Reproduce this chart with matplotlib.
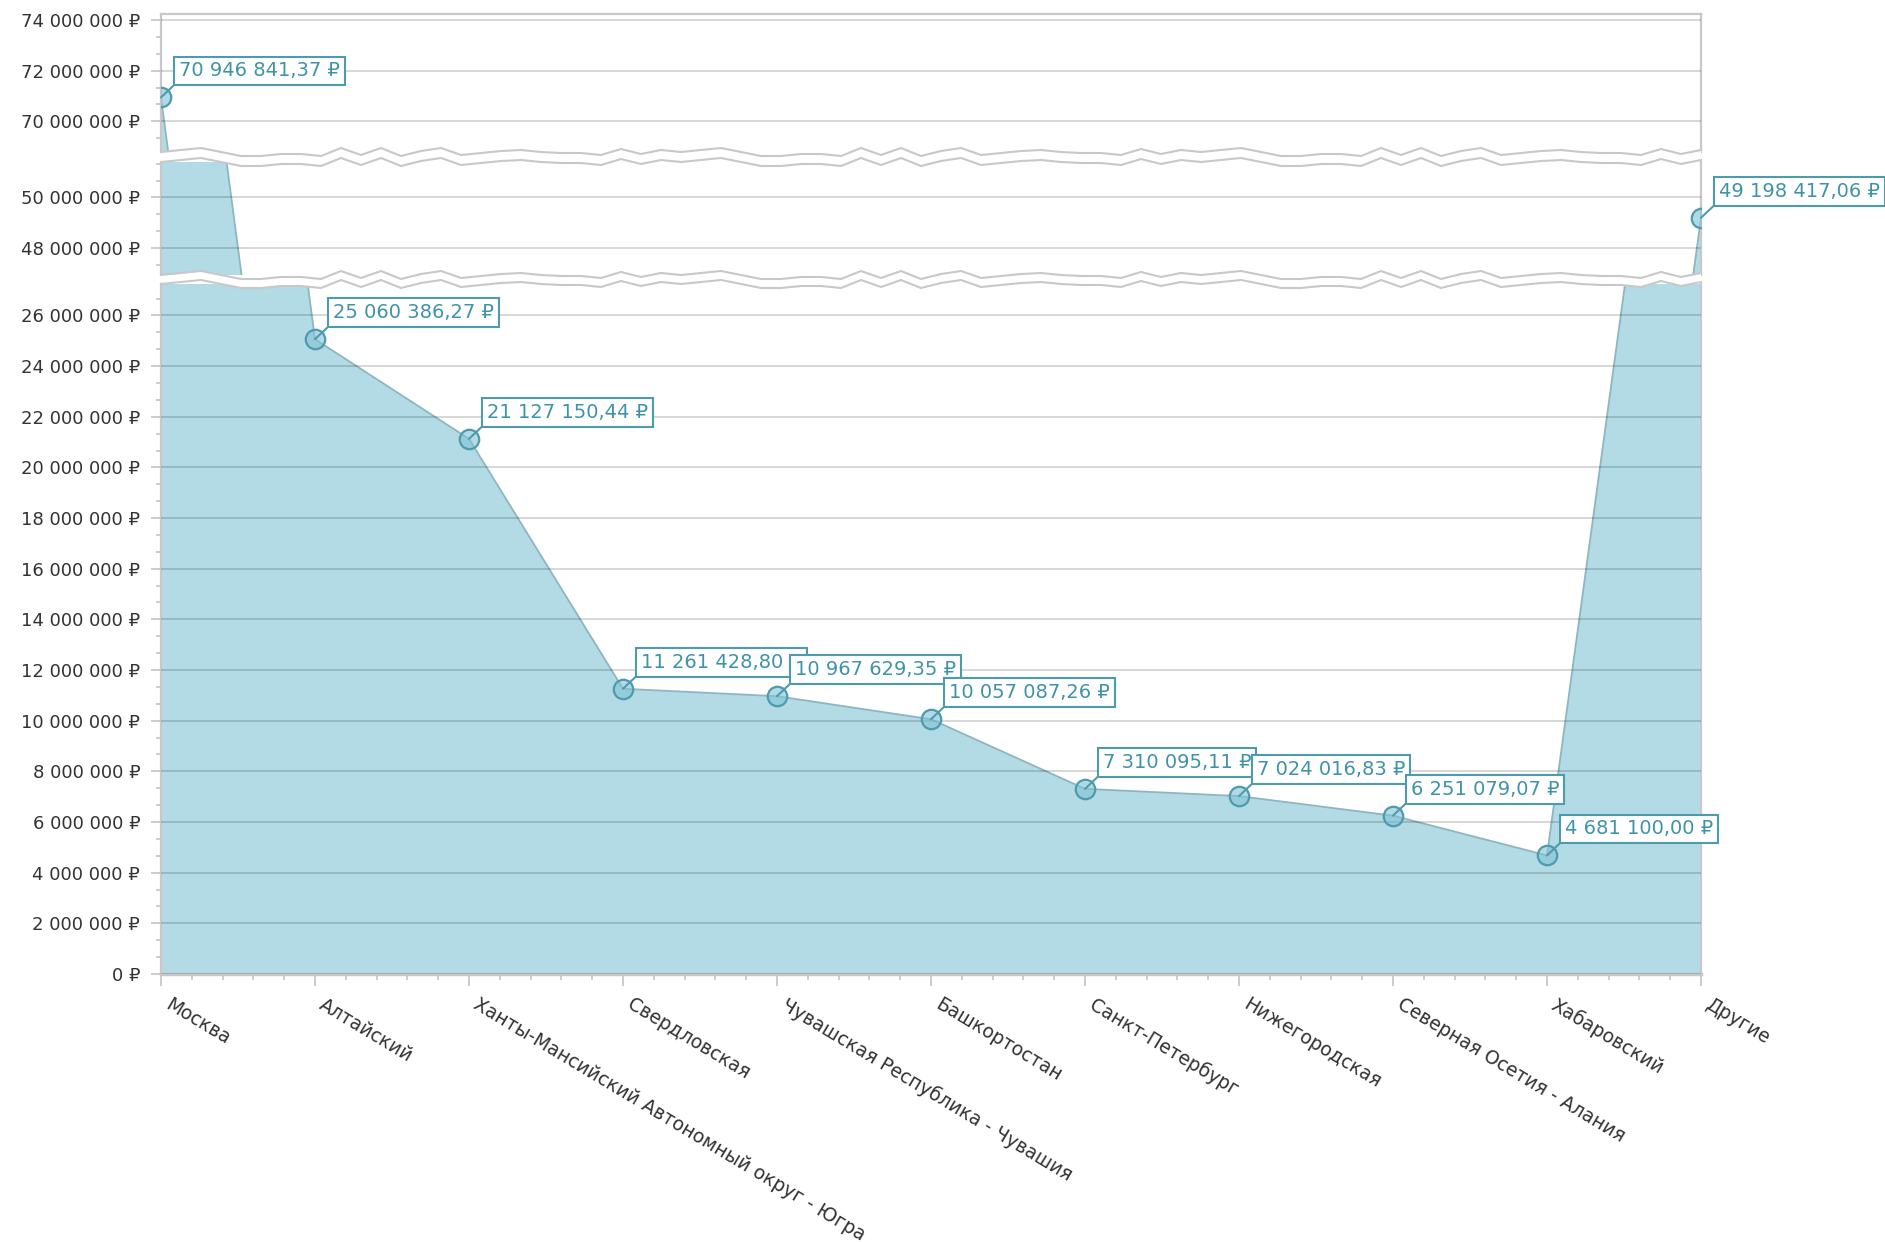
import numpy as np
import matplotlib
matplotlib.use('Agg')
import matplotlib.pyplot as plt
import matplotlib.ticker as ticker
from matplotlib.patches import Polygon
from matplotlib.lines import Line2D
from matplotlib.transforms import ScaledTranslation

regions = ['Москва', 'Алтайский', 'Ханты-Мансийский Автономный округ - Югра',
           'Свердловская', 'Чувашская Республика - Чувашия', 'Башкортостан',
           'Санкт-Петербург', 'Нижегородская', 'Северная Осетия - Алания',
           'Хабаровский', 'Другие']
amounts = [70946841.37, 25060386.27, 21127150.44, 11261428.80, 10967629.35,
           10057087.26, 7310095.11, 7024016.83, 6251079.07, 4681100.00,
           49198417.06]

plt.rcParams['font.family'] = ['DejaVu Sans', 'Noto Sans']

W, H = 1885, 1242
LEFT, RIGHT = 161, 1701
GRID = '#c8c8c8'
FILL = '#b3dbe5'
EDGE = '#4e9bab'
TEXT = '#3f93a8'

# (top px, bottom px, ymin, ymax) for each piece of the broken axis
segments = [
    (14, 152, 68.79e6, 74.24e6),
    (162, 275, 46.94e6, 51.40e6),
    (284, 974, 0, 27.24e6),
]


def rub(v, pos=None):
    return '{:,}'.format(int(round(v))).replace(',', ' ') + ' ₽'


def rub_cents(v):
    return '{:,.2f}'.format(v).replace(',', ' ').replace('.', ',') + ' ₽'


fig = plt.figure(figsize=(W / 100, H / 100), dpi=100)
x = np.arange(len(amounts))
axes = []
for i, (top, bottom, lo, hi) in enumerate(segments):
    ax = fig.add_axes([LEFT / W, 1 - bottom / H, (RIGHT - LEFT) / W, (bottom - top) / H])
    ax.fill_between(x, 0, amounts, color=FILL, lw=0, zorder=1)
    ax.plot(x, amounts, color='#8fb6c0', lw=1.3, zorder=2)
    ax.plot(x, amounts, 'o', ms=14, mfc=(0.50, 0.76, 0.84, 0.6), mec=EDGE, mew=1.6, zorder=4)
    ax.set_xlim(0, len(amounts) - 1)
    ax.set_ylim(lo, hi)
    ax.yaxis.set_major_locator(ticker.MultipleLocator(2e6))
    ax.yaxis.set_minor_locator(ticker.AutoMinorLocator(3))
    ax.yaxis.set_major_formatter(ticker.FuncFormatter(rub))
    ax.grid(axis='y', color='black', alpha=0.17, lw=1.3, zorder=3)
    ax.set_axisbelow(False)
    ax.tick_params(axis='y', which='major', length=7, width=1.3, color=GRID,
                   labelsize=13, labelcolor='#333333', pad=8)
    ax.tick_params(axis='y', which='minor', length=3.5, width=1.3, color=GRID)
    for s in ax.spines.values():
        s.set_color(GRID)
        s.set_linewidth(1.6)
    ax.spines['top'].set_visible(i == 0)
    ax.spines['bottom'].set_visible(i == 2)
    if i < 2:
        ax.tick_params(axis='x', which='both', bottom=False, labelbottom=False)
    axes.append(ax)

ax = axes[2]
ax.spines['bottom'].set_linewidth(2.5)
ax.set_xticks(x)
ax.xaxis.set_minor_locator(ticker.AutoMinorLocator(5))
ax.tick_params(axis='x', which='major', length=8.5, width=1.3, color=GRID, labelbottom=False)
ax.tick_params(axis='x', which='minor', length=4, width=1.3, color=GRID)
shift = ScaledTranslation(0.11, -0.21, fig.dpi_scale_trans)
for i, name in enumerate(regions):
    ax.text(i, 0, name, transform=ax.get_xaxis_transform() + shift, rotation=-31,
            rotation_mode='anchor', ha='left', va='top', fontsize=13.5, color='#333333')

# value labels
for i, v in enumerate(amounts):
    target = axes[2]
    for a, (_, _, lo, hi) in zip(axes, segments):
        if lo <= v <= hi:
            target = a
    target.annotate(rub_cents(v), xy=(i, v), xytext=(12.9, 12.2), textcoords='offset points',
                    ha='left', va='bottom', fontsize=14, color=TEXT, zorder=6,
                    annotation_clip=False,
                    bbox=dict(boxstyle='square,pad=0.25', fc='white', ec=EDGE, lw=1.5),
                    arrowprops=dict(arrowstyle='-', color=EDGE, lw=1.5, relpos=(0, 0),
                                    shrinkA=0, shrinkB=0))

# zigzag marks of the axis breaks
wave = [0, -2, -4, 0, 4, 4, 2, 2, 4, -4, 3, -4, 4, -1, -4, 3, 1, -1, -2, 0, 1, 1, 3, -3, 2, -2]
wx = np.arange(LEFT, RIGHT + 20, 20)
wx[-1] = RIGHT
wy = np.array([wave[k % len(wave)] for k in range(len(wx))])
for upper, lower in [(152, 162), (275, 284)]:
    y1 = upper + wy
    y2 = lower + wy
    fx = wx / W
    poly = np.column_stack([np.r_[fx, fx[::-1]], np.r_[1 - y1 / H, (1 - y2 / H)[::-1]]])
    fig.add_artist(Polygon(poly, closed=True, fc='white', ec='none', zorder=5,
                           transform=fig.transFigure))
    for yy in (y1, y2):
        fig.add_artist(Line2D(fx, 1 - yy / H, color=GRID, lw=1.5, zorder=5,
                              transform=fig.transFigure))

fig.savefig('out.png', dpi=100)
